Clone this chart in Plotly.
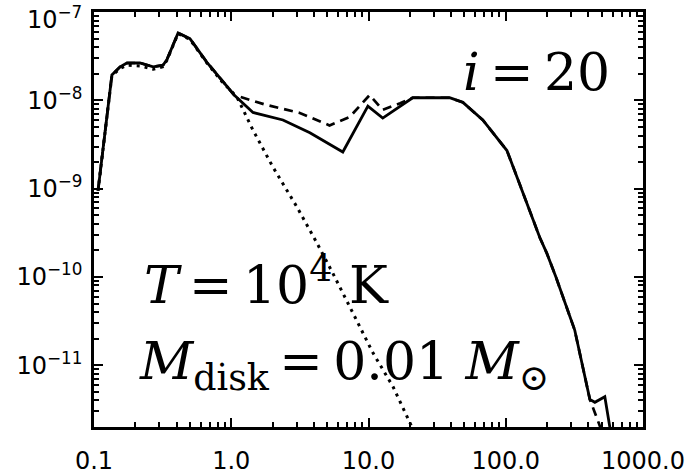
import plotly.graph_objects as go

# ---- data ----
solid_x = [0.107, 0.135, 0.155, 0.174, 0.216, 0.27, 0.318, 0.34, 0.41, 0.50, 0.665, 0.85, 1.05,
           1.44, 2.38, 3.74, 6.5, 9.9, 12.7, 21, 39, 48.7, 68, 102, 122, 177, 199, 232, 318,
           410, 446, 527, 573, 680]
solid_y = [9.5e-10, 1.94e-8, 2.4e-8, 2.65e-8, 2.65e-8, 2.4e-8, 2.5e-8, 2.9e-8, 5.8e-8, 5.0e-8,
           2.7e-8, 1.7e-8, 1.15e-8, 7.3e-9, 6.0e-9, 4.3e-9, 2.6e-9, 8.6e-9, 6.3e-9, 1.07e-8,
           1.07e-8, 9.5e-9, 6.0e-9, 2.7e-9, 1.3e-9, 2.8e-10, 1.86e-10, 1.0e-10, 2.5e-11,
           4.1e-12, 3.8e-12, 4.4e-12, 2.0e-12, 1.0e-12]

dashed_x = [0.107, 0.135, 0.155, 0.174, 0.216, 0.27, 0.318, 0.34, 0.41, 0.50, 0.665, 0.85, 1.05,
            1.75, 3.16, 5.2, 7.3, 10.2, 12.7, 17, 21, 39, 48.7, 68, 102, 122, 177, 199, 232, 318,
            410, 446, 500, 560]
dashed_y = [9.5e-10, 1.94e-8, 2.4e-8, 2.65e-8, 2.65e-8, 2.4e-8, 2.5e-8, 2.9e-8, 5.8e-8, 5.0e-8,
            2.7e-8, 1.7e-8, 1.15e-8, 9.0e-9, 7.2e-9, 5.2e-9, 6.5e-9, 1.15e-8, 7.8e-9, 9.3e-9,
            1.07e-8, 1.07e-8, 9.5e-9, 6.0e-9, 2.7e-9, 1.3e-9, 2.8e-10, 1.86e-10, 1.0e-10,
            2.5e-11, 4.1e-12, 2.9e-12, 1.8e-12, 1.0e-12]

dotted_x = [0.107, 0.135, 0.155, 0.174, 0.216, 0.27, 0.318, 0.34, 0.41, 0.50, 0.665, 0.85, 1.10,
            1.44, 2.01, 3.01, 4.21, 5.5, 7.7, 10.8, 15.1, 20.7, 25]
dotted_y = [9.5e-10, 1.9e-8, 2.3e-8, 2.5e-8, 2.45e-8, 2.25e-8, 2.4e-8, 2.85e-8, 5.7e-8, 4.9e-8,
            2.65e-8, 1.65e-8, 1.09e-8, 4.6e-9, 1.76e-9, 6.2e-10, 2.42e-10, 1.1e-10, 3.9e-11,
            1.37e-11, 5.7e-12, 2.0e-12, 1.2e-12]

x_tickvals = [0.1, 1, 10, 100, 1000]
x_ticktext = ["0.1", "1.0", "10.0", "100.0", "1000.0"]
y_tickvals = [1e-7, 1e-8, 1e-9, 1e-10, 1e-11]
y_ticktext = ["10<sup>\u22127</sup>", "10<sup>\u22128</sup>", "10<sup>\u22129</sup>",
              "10<sup>\u221210</sup>", "10<sup>\u221211</sup>"]

# minor tick positions (2..9 within each decade)
x_minor = [m * 10.0 ** e for e in range(-1, 3) for m in range(2, 10)]
y_minor = [m * 10.0 ** e for e in range(-12, -7) for m in range(2, 10)]

X_RANGE = [-1, 3.0]
Y_RANGE = [-11.70, -6.999]

fig = go.Figure()
fig.add_trace(go.Scatter(x=dotted_x, y=dotted_y, mode="lines",
                         line=dict(color="black", width=3.0, dash="3px,5px"), showlegend=False))
fig.add_trace(go.Scatter(x=dashed_x, y=dashed_y, mode="lines",
                         line=dict(color="black", width=2.7, dash="9px,6px"), showlegend=False))
fig.add_trace(go.Scatter(x=solid_x, y=solid_y, mode="lines",
                         line=dict(color="black", width=2.8), showlegend=False))
# invisible trace to anchor the minor-tick axes
fig.add_trace(go.Scatter(x=[1], y=[1e-9], xaxis="x2", yaxis="y2", mode="markers",
                         marker=dict(opacity=0), showlegend=False, hoverinfo="skip"))

tickfont = dict(family="DejaVu Sans", size=24, color="black")
common = dict(type="log", tickmode="array", tickcolor="black", showline=True, linewidth=2.5,
              linecolor="black", mirror="allticks", showgrid=False, zeroline=False,
              automargin=False)
# the top label (10^-7) sits at the very edge; it is drawn slightly lower, as in the reference
y_ticktext_axis = [""] + y_ticktext[1:]
fig.update_layout(
    xaxis=dict(common, range=X_RANGE, tickvals=x_tickvals, ticktext=x_ticktext,
               ticks="inside", ticklen=9, tickwidth=2, tickfont=tickfont,
               ticklabelstandoff=10, ticklabeloverflow="allow"),
    yaxis=dict(common, range=Y_RANGE, tickvals=y_tickvals, ticktext=y_ticktext_axis,
               ticks="inside", ticklen=9, tickwidth=2, tickfont=tickfont,
               ticklabelstandoff=4, ticklabeloverflow="allow"),
    xaxis2=dict(common, range=X_RANGE, overlaying="x", anchor="y2", side="bottom",
                tickvals=x_minor, showticklabels=False, ticks="inside", ticklen=5, tickwidth=1.5),
    yaxis2=dict(common, range=Y_RANGE, overlaying="y", anchor="x2", side="left",
                tickvals=y_minor, showticklabels=False, ticks="inside", ticklen=5, tickwidth=1.5),
)
fig.add_annotation(xref="paper", yref="paper", x=-0.018, y=0.985, xanchor="right", yanchor="middle",
                   text=y_ticktext[0], showarrow=False, font=tickfont)

TS = "\u2009"  # thin space
serif = dict(family="DejaVu Serif", size=52, color="black")
fig.add_annotation(xref="paper", yref="paper", x=0.668, y=0.778, xanchor="left", yanchor="bottom",
                   text="<i>i</i>" + TS + "=" + TS + "20", showarrow=False, font=serif)
fig.add_annotation(xref="paper", yref="paper", x=0.087, y=0.264, xanchor="left", yanchor="bottom",
                   text="<i>T</i>" + TS + "=" + TS + "10<sup>4</sup> K", showarrow=False, font=serif)
fig.add_annotation(xref="paper", yref="paper", x=0.078, y=0.062, xanchor="left", yanchor="bottom",
                   text="<i>M</i><sub>disk</sub>" + TS + "=" + TS + "0.01 <i>M</i><sub>\u2299</sub>",
                   showarrow=False, font=serif)

fig.update_layout(width=694, height=475, margin=dict(l=94, r=51, t=12, b=48, autoexpand=False),
                  paper_bgcolor="white", plot_bgcolor="white")
fig.write_html("out.html", config={"displayModeBar": False},
               post_script="document.body.style.margin='0px';document.body.style.overflow='hidden';")
